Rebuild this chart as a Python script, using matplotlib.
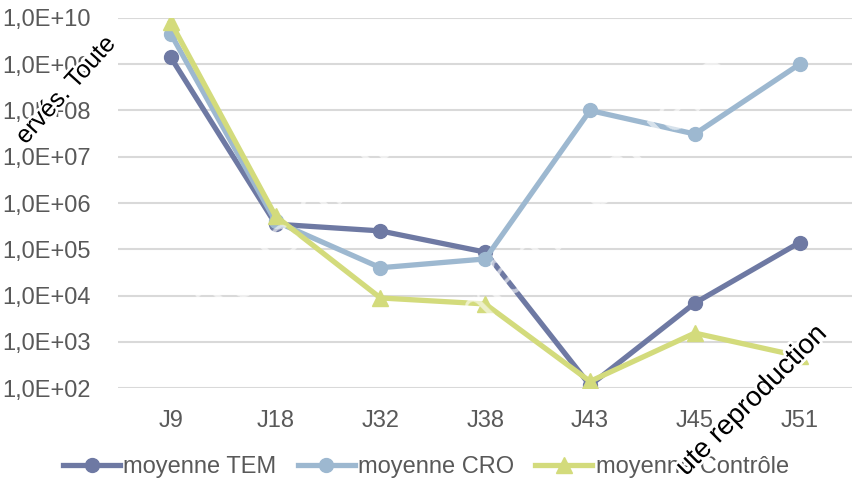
import matplotlib.pyplot as plt
import matplotlib.patheffects as pe
import numpy as np

plt.rcParams['font.family'] = ['Liberation Sans', 'DejaVu Sans']

jours = ['J9', 'J18', 'J32', 'J38', 'J43', 'J45', 'J51']
tem = [1.4e9, 3.5e5, 2.5e5, 8.7e4, 1.15e2, 6.9e3, 1.4e5]
cro = [4.5e9, 4.0e5, 4.0e4, 6.2e4, 1.0e8, 3.1e7, 1.0e9]
controle = [8.0e9, 5.2e5, 8.9e3, 6.6e3, 1.4e2, 1.55e3, 4.9e2]
yticks = [1e2, 1e3, 1e4, 1e5, 1e6, 1e7, 1e8, 1e9, 1e10]

fig = plt.figure(figsize=(8.52, 4.84), dpi=100)
ax = fig.add_axes([0.139, 0.198, 0.861, 0.765])

x = np.arange(len(jours))
ax.plot(x, tem, color='#6E79A3', lw=3.8, marker='o', ms=10, label='moyenne TEM', zorder=3)
ax.plot(x, cro, color='#9DB8D0', lw=3.8, marker='o', ms=10, label='moyenne CRO', zorder=4)
ax.plot(x, controle, color='#D3DB7C', lw=3.8, marker='^', ms=12, label='moyenne Contrôle', zorder=5)

ax.set_yscale('log')
ax.set_ylim(1e2, 1e10)
ax.set_xlim(-0.5, len(jours) - 0.5)
ax.set_yticks(yticks)
ax.set_yticklabels(['1,0E+%02d' % int(np.log10(v)) for v in yticks])
ax.minorticks_off()
ax.set_xticks(x)
ax.set_xticklabels(jours)
ax.tick_params(length=0, labelsize=17, labelcolor='#595959')
ax.tick_params(axis='y', pad=20)
ax.tick_params(axis='x', pad=16)
ax.grid(True, axis='y', color='#D9D9D9', lw=1.5, zorder=0)
for s in ax.spines.values():
    s.set_visible(False)
ax.set_axisbelow(True)

fig.legend(loc='center', bbox_to_anchor=(0.5, 0.035), ncol=3, frameon=False,
           fontsize=17, labelcolor='#595959', handlelength=2.4, handletextpad=0.15,
           columnspacing=0.9)

# filigrane
fig.text(0.36, 0.55, 'Tous droits', rotation=45, fontsize=40, color='white',
         alpha=0.6, ha='center', va='center', zorder=10)
fig.text(0.7, 0.6, 'même partielle', rotation=45, fontsize=40, color='white',
         alpha=0.6, ha='center', va='center', zorder=10)
fig.text(0.03, 0.70, 'ervés. Toute', rotation=48, fontsize=18, color='black',
         ha='left', va='baseline', zorder=11, rotation_mode='anchor',
         path_effects=[pe.withStroke(linewidth=4, foreground='white')])
fig.text(0.805, 0.015, 'ute reproduction', rotation=45, fontsize=20, color='black',
         ha='left', va='baseline', zorder=11, rotation_mode='anchor',
         path_effects=[pe.withStroke(linewidth=4, foreground='white')])

fig.savefig('out.png', dpi=100)
